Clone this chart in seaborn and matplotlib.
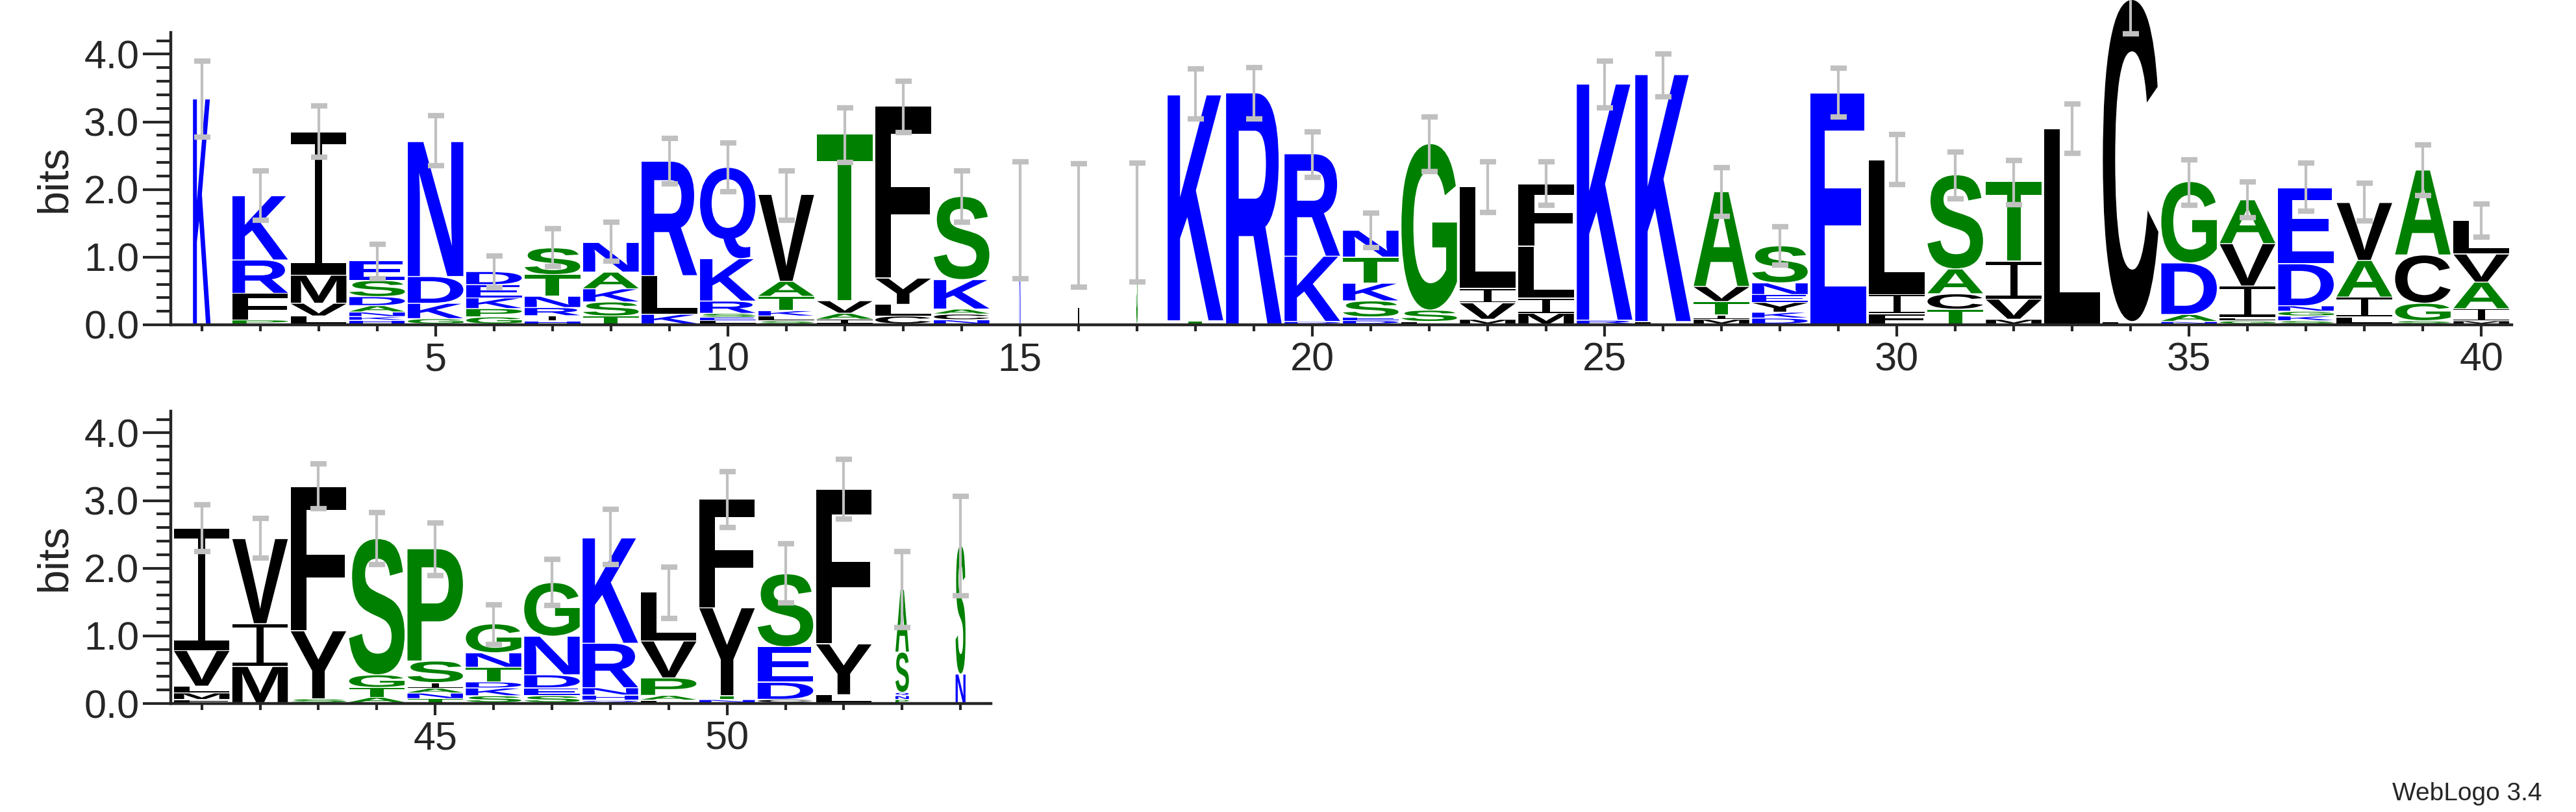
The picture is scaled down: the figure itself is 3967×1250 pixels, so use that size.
import numpy as np
import matplotlib
matplotlib.use("Agg")
import matplotlib.pyplot as plt
import seaborn as sns
from matplotlib.textpath import TextPath
from matplotlib.font_manager import FontProperties
from matplotlib.patches import PathPatch
from matplotlib.path import Path
from matplotlib.transforms import Affine2D

sns.set_theme(style="ticks")
plt.rcParams['font.family'] = ['Liberation Sans', 'DejaVu Sans']

positions = list(range(1, 55))
stack_letters = [
    "K", "PFRK", "LVMI", "HKNADSE", "GKDN", "GPKED", "HIRNTS", "TSKAN", "KLR", "LESRKQ",
    "SLKTAV", "IAVT", "CLYF", "NCAKS", "K", "L", "S", "TK", "R", "DKR",
    "DESKTN", "LSG", "MVIL", "MILF", "RK", "LK", "MITVA", "DKYENS", "E", "FIL",
    "TCAS", "MVIT", "L", "LC", "NADG", "GLIVA", "SKGNDE", "LIAV", "SGCA", "MIAVL",
    "FMLVI", "MIV", "SYF", "ATGS", "TNAISP", "SKDTNG", "SEDNG", "QHNRK", "LAPVL", "NTYF",
    "CDES", "LYF", "PNQSA", "NS",
]
stack_heights = [
    [3.30], [0.04, 0.33, 0.42, 0.82], [0.10, 0.17, 0.39, 2.05],
    [0.03, 0.03, 0.04, 0.06, 0.09, 0.17, 0.21], [0.06, 0.20, 0.36, 1.87],
    [0.05, 0.06, 0.08, 0.10, 0.10], [0.02, 0.04, 0.07, 0.10, 0.20, 0.25],
    [0.08, 0.15, 0.14, 0.18, 0.33], [0.12, 0.52, 1.57], [0.03, 0.03, 0.04, 0.15, 0.55, 1.20],
    [0.03, 0.05, 0.06, 0.18, 0.19, 1.17], [0.05, 0.07, 0.16, 2.29], [0.10, 0.15, 0.36, 2.44],
    [0.04, 0.06, 0.05, 0.36, 1.04], [1.50], [1.45], [1.50], [0.03, 3.17], [3.20],
    [0.02, 0.88, 1.39], [0.03, 0.03, 0.18, 0.20, 0.30, 0.31], [0.02, 0.14, 2.24],
    [0.05, 0.21, 0.18, 1.38], [0.13, 0.19, 0.69, 0.82], [0.04, 3.40], [0.02, 3.60],
    [0.05, 0.04, 0.17, 0.19, 1.26], [0.05, 0.05, 0.09, 0.07, 0.11, 0.37], [3.40],
    [0.13, 0.26, 1.90], [0.19, 0.20, 0.33, 1.29], [0.05, 0.26, 0.50, 1.07], [2.85],
    [0.02, 4.72], [0.02, 0.08, 0.68, 1.08], [0.03, 0.03, 0.42, 0.57, 0.59],
    [0.03, 0.05, 0.05, 0.06, 0.55, 1.01], [0.08, 0.26, 0.49, 0.78], [0.03, 0.22, 0.63, 1.12],
    [0.03, 0.15, 0.35, 0.37, 0.45], [0.03, 0.08, 0.08, 0.49, 1.71], [0.49, 0.58, 1.17],
    [0.04, 0.94, 2.01], [0.06, 0.12, 0.16, 1.85], [0.04, 0.06, 0.05, 0.06, 0.27, 1.46],
    [0.07, 0.08, 0.06, 0.16, 0.16, 0.33], [0.08, 0.09, 0.16, 0.50, 0.70],
    [0.02, 0.06, 0.09, 0.62, 1.49], [0.02, 0.05, 0.22, 0.48, 0.64], [0.03, 0.04, 1.23, 1.52],
    [0.03, 0.21, 0.45, 0.94], [0.10, 0.72, 2.22], [0.03, 0.04, 0.03, 0.54, 0.85], [0.40, 1.85],
]
stack_top = [3.33, 1.90, 2.84, 0.94, 2.70, 0.78, 1.13, 1.21, 2.41, 2.32,
             1.92, 2.81, 3.23, 1.89, 1.54, 1.45, 1.52, 3.39, 3.42, 2.52,
             1.39, 2.67, 2.04, 2.07, 3.55, 3.69, 1.96, 1.16, 3.42, 2.43,
             2.21, 2.11, 2.89, 4.80, 2.11, 1.84, 2.02, 1.80, 2.28, 1.54,
             2.58, 2.43, 3.20, 2.43, 2.28, 1.17, 1.78, 2.44, 1.64, 3.01,
             1.91, 3.16, 1.68, 2.33]
err_low = [2.77, 1.55, 2.48, 0.68, 2.35, 0.55, 0.86, 0.94, 2.08, 1.97,
           1.55, 2.40, 2.84, 1.52, 0.68, 0.56, 0.63, 3.04, 3.04, 2.18,
           1.14, 2.27, 1.66, 1.77, 3.21, 3.37, 1.60, 0.88, 3.07, 2.07,
           1.86, 1.78, 2.53, 4.30, 1.77, 1.58, 1.68, 1.54, 1.91, 1.30,
           2.25, 2.15, 2.88, 2.05, 1.89, 0.87, 1.45, 2.05, 1.26, 2.60,
           1.49, 2.73, 1.12, 1.59]
err_high = [3.90, 2.28, 3.24, 1.19, 3.09, 1.02, 1.42, 1.52, 2.76, 2.69,
            2.28, 3.21, 3.60, 2.28, 2.41, 2.38, 2.39, 3.78, 3.80, 2.85,
            1.65, 3.07, 2.41, 2.41, 3.90, 4.00, 2.32, 1.45, 3.79, 2.81,
            2.55, 2.43, 3.26, 5.20, 2.44, 2.11, 2.39, 2.09, 2.66, 1.79,
            2.94, 2.74, 3.54, 2.82, 2.67, 1.46, 2.13, 2.87, 2.02, 3.43,
            2.36, 3.61, 2.25, 3.06]
stack_width = {1: 0.30, 15: 0.025, 16: 0.025, 17: 0.025, 53: 0.23, 54: 0.17}

blue_set = set("KRHDENQ")
green_set = set("GSTAP")

def letter_color(c):
    if c in blue_set:
        return "#0000ff"
    if c in green_set:
        return "#008000"
    return "#000000"

fp = FontProperties(family="Liberation Sans", weight="bold")
glyph_cache = {}

def serif_i_path():
    b = 0.08
    s = 0.065
    verts = [(0, 0), (1, 0), (1, b), (0.5 + s, b), (0.5 + s, 1 - b), (1, 1 - b),
             (1, 1), (0, 1), (0, 1 - b), (0.5 - s, 1 - b), (0.5 - s, b), (0, b), (0, 0)]
    codes = [Path.MOVETO] + [Path.LINETO] * 11 + [Path.CLOSEPOLY]
    return Path(verts, codes)

def draw_letter(ax, ch, x, y0, w, h):
    if ch == "I":
        path = Affine2D().scale(w, h).translate(x - w / 2, y0).transform_path(serif_i_path())
    else:
        if ch not in glyph_cache:
            glyph_cache[ch] = TextPath((0, 0), ch, size=100, prop=fp)
        tp = glyph_cache[ch]
        ext = tp.get_extents()
        tr = (Affine2D().translate(-ext.x0, -ext.y0)
              .scale(w / ext.width, h / ext.height)
              .translate(x - w / 2, y0))
        path = tr.transform_path(tp)
    ax.add_patch(PathPatch(path, facecolor=letter_color(ch), edgecolor="none",
                           lw=0, clip_on=False))

fig = plt.figure(figsize=(39.67, 12.5), dpi=100)
ax_top = fig.add_axes([263 / 3967, 0.60, (3868 - 263) / 3967, 0.36])
ax_bot = fig.add_axes([263 / 3967, 1 - 1083 / 1250, (1526 - 263) / 3967, 0.36])

panels = [(ax_top, 1, 40, (0.47, 40.52), list(range(5, 41, 5))),
          (ax_bot, 41, 54, (40.47, 54.52), [45, 50])]

gap = 0.015
for ax, p0, p1, xl, majors in panels:
    for p in range(p0, p1 + 1):
        i = p - 1
        w = stack_width.get(p, 0.95)
        hs = stack_heights[i]
        n = len(hs)
        base = 0.02
        scale = (stack_top[i] - base - gap * (n - 1)) / sum(hs)
        y = base
        for ch, h in zip(stack_letters[i], hs):
            draw_letter(ax, ch, p, y, w, h * scale)
            y += h * scale + gap
        mid = (err_low[i] + err_high[i]) / 2
        half = (err_high[i] - err_low[i]) / 2
        ax.errorbar([p], [mid], yerr=[half], fmt="none", ecolor="#c0c0c0",
                    elinewidth=3, capsize=9, capthick=6, clip_on=False, zorder=5)
    ax.set_xlim(*xl)
    ax.set_ylim(0, 4.32)
    ax.set_xticks(majors)
    ax.set_xticklabels([str(m) for m in majors])
    ax.set_xticks(list(range(p0, p1 + 1)), minor=True)
    ax.set_yticks([0, 1, 2, 3, 4])
    ax.set_yticklabels(["0.0", "1.0", "2.0", "3.0", "4.0"])
    ax.set_yticks(np.arange(0, 4.33, 0.2), minor=True)
    ax.tick_params(axis="y", which="major", length=31, width=3, labelsize=44, pad=4)
    ax.tick_params(axis="y", which="minor", length=16, width=3)
    ax.tick_params(axis="x", which="major", length=13, width=3, labelsize=44, pad=6)
    ax.tick_params(axis="x", which="minor", length=7, width=3)
    for s in ["top", "right"]:
        ax.spines[s].set_visible(False)
    for s in ["left", "bottom"]:
        ax.spines[s].set_linewidth(3.2)
    ax.set_ylabel("bits", fontsize=48, labelpad=10)
    ax.set_facecolor("none")
    ax.grid(False)

fig.text(3915 / 3967, 1 - 1232 / 1250, "WebLogo 3.4", ha="right", va="baseline", fontsize=28)
fig.savefig("out.png", dpi=100)
